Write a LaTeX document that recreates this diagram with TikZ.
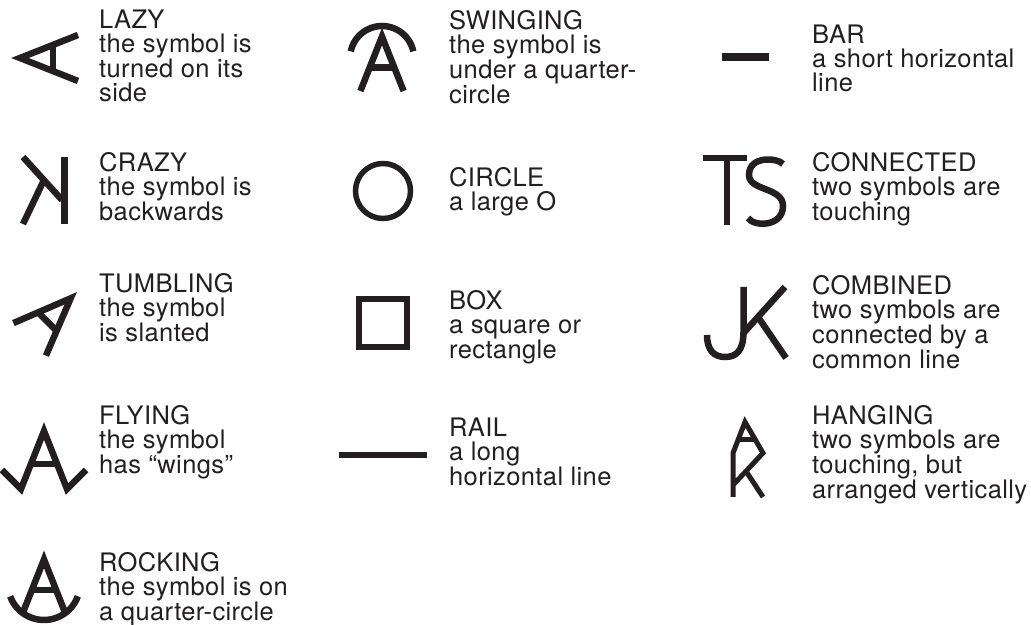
\documentclass[tikz,border=0pt]{standalone}
\usepackage{fontspec}
\setmainfont{TeX Gyre Heros}[LetterSpace=1.5]
\usepackage{xcolor}
\usepackage{tikz}
\definecolor{ink}{HTML}{231F20}

\begin{document}
\begin{tikzpicture}[x=1pt, y=1pt, every node/.style={font=\fontsize{25.5}{24}\selectfont, text=ink, inner sep=0pt, anchor=north west, align=left}]
    \tikzset{glyph/.style={draw=ink, line width=6.5pt},
             letterA/.pic={\draw[glyph] (-23,-33) -- (0,25) -- (23,-33);
                           \draw[glyph] (-13.1,-8) -- (13.1,-8);}}

    \useasboundingbox (0,0) rectangle (1031,624);

    % first column
    \pic[rotate=90] at (45,566) {letterA};
    \draw[glyph] (64.5,467) -- (64.5,400);
    \draw[glyph] (23,467) -- (62,424);
    \draw[glyph] (23,400) -- (43,442);
    \pic[rotate=-45] at (53,308) {letterA};
    \draw[glyph] (2,154) -- (21,135) -- (44,193) -- (67,135) -- (86,154);
    \draw[glyph] (30.9,160) -- (57.1,160);
    \pic[scale=0.92] at (44,41.6) {letterA};
    \draw[glyph] (44,40) ++(200:36) arc[start angle=200, end angle=340, radius=36];

    \node (lazy) at (99,614) {LAZY\\the symbol is\\turned on its\\side};
    \node (crazy) at (99,472) {CRAZY\\the symbol is\\backwards};
    \node (tumbling) at (99,351) {TUMBLING\\the symbol\\is slanted};
    \node (flying) at (99,219) {FLYING\\the symbol\\has “wings”};
    \node (rocking) at (99,72) {ROCKING\\the symbol is on\\a quarter-circle};

    % second column
    \pic[scale=0.94] at (382,564) {letterA};
    \draw[glyph] (382,566) ++(12:32) arc[start angle=12, end angle=168, radius=32];
    \draw[glyph, line width=5.5pt] (383,433) circle[radius=27.5];
    \draw[glyph] (359,277) rectangle (407,325);
    \draw[glyph, line width=5.5pt] (339,169) -- (427,169);

    \node (swinging) at (449,614) {SWINGING\\the symbol is\\under a quarter-\\circle};
    \node (circle) at (449,457) {CIRCLE\\a large O};
    \node (box) at (449,334) {BOX\\a square or\\rectangle};
    \node (rail) at (449,206) {RAIL\\a long\\horizontal line};

    % third column
    \draw[glyph, line width=8pt] (722,567) -- (769,567);
    \draw[glyph] (703,466) -- (747,466);
    \draw[glyph] (727,466) -- (727,399);
    \begin{scope}[shift={(766,433)}]
        \draw[glyph] (17,27) .. controls (12,33) and (-17,36) .. (-17,16)
            .. controls (-17,0) and (17,4) .. (17,-15)
            .. controls (17,-36) and (-12,-36) .. (-18,-27);
    \end{scope}
    \draw[glyph] (743.5,337) -- (743.5,292) .. controls (743.5,273) and (736,267) .. (725,267)
        .. controls (714,267) and (707,274) .. (707,289);
    \draw[glyph] (743.5,291) -- (785,337);
    \draw[glyph] (758,307) -- (786,266);
    \draw[glyph, line width=5pt] (733,127) -- (733,171) -- (745,202) -- (763,171) -- (734,140);
    \draw[glyph, line width=5pt] (746,152.8) -- (763,127);
    \draw[glyph, line width=5pt] (738,184) -- (755.5,184);

    \node (bar) at (812,599) {BAR\\a short horizontal\\line};
    \node (connected) at (812,472) {CONNECTED\\two symbols are\\touching};
    \node (combined) at (812,349) {COMBINED\\two symbols are\\connected by a\\common line};
    \node (hanging) at (812,219) {HANGING\\two symbols are\\touching, but\\arranged vertically};
\end{tikzpicture}
\end{document}
